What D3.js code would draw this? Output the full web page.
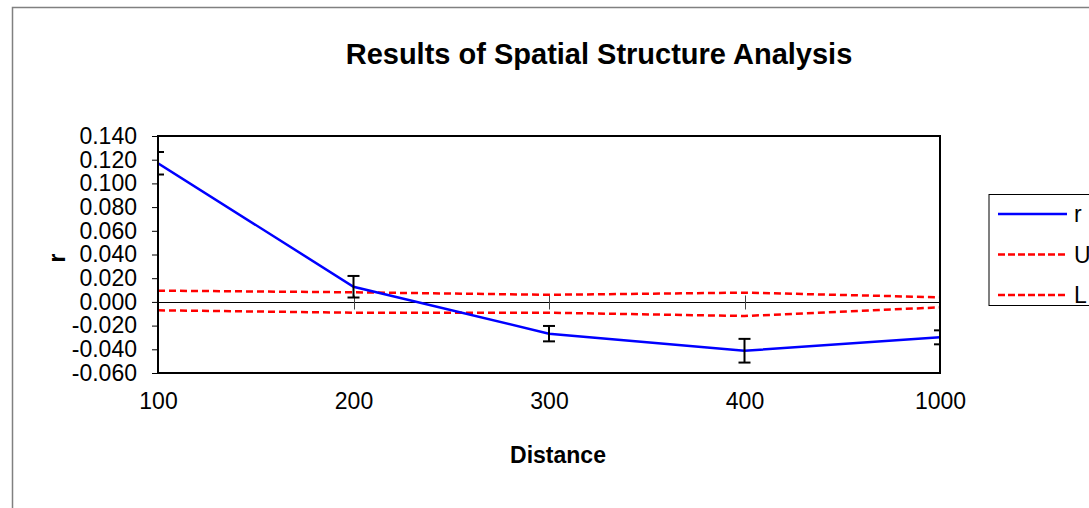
<!DOCTYPE html>
<html><head><meta charset="utf-8">
<script src="https://cdn.jsdelivr.net/npm/d3@7"></script>
<style>body{margin:0;background:#fff}svg{display:block}text{font-family:"Liberation Sans",Arial,sans-serif}</style>
</head><body>
<svg id="c" width="1089" height="508"></svg>
<script>
const categories = ["100","200","300","400","1000"];
const rValues = [0.117, 0.0128, -0.0268, -0.0412, -0.0299];
const rError  = [0.0095, 0.0091, 0.0065, 0.0100, 0.0059];
const uValues = [0.0095, 0.0081, 0.0060, 0.0078, 0.0039];
const lValues = [-0.0071, -0.0091, -0.0091, -0.0119, -0.0046];
const yTicks = [0.14,0.12,0.10,0.08,0.06,0.04,0.02,0,-0.02,-0.04,-0.06];

const FS = 23;
const svg = d3.select("#c");
const L = 158, R = 940, T = 136, B = 373;
svg.append("rect").attr("x",12.5).attr("y",7.5).attr("width",1200).attr("height",600)
  .attr("fill","#fff").attr("stroke","#808080").attr("stroke-width",1.5);

const x = d3.scalePoint().domain(categories).range([L,R]).padding(0);
const y = d3.scaleLinear().domain([-0.06,0.14]).range([B,T]);

svg.append("text").attr("x",599).attr("y",64).attr("text-anchor","middle")
  .style("font-size","29px").attr("font-weight","bold").text("Results of Spatial Structure Analysis");

// y axis
const ya = svg.append("g").attr("transform",`translate(${L},0)`)
  .call(d3.axisLeft(y).tickValues(yTicks).tickSize(6).tickPadding(15).tickFormat(d3.format(".3f")));
ya.select(".domain").remove();
ya.selectAll("line").attr("stroke","#000");
ya.selectAll("text").style("font-size",FS+"px").attr("font-family","Liberation Sans, Arial, sans-serif").attr("fill","#000")
  .text(d=> d3.format(".3f")(d).replace("−","-"));

// zero line with cross ticks
const y0 = Math.round(y(0))+0.5;
svg.append("line").attr("x1",L).attr("x2",R).attr("y1",y0).attr("y2",y0).attr("stroke","#000").attr("stroke-width",1);
svg.append("g").selectAll("line").data(categories.slice(1,-1)).join("line")
  .attr("x1",d=>Math.round(x(d))+0.5).attr("x2",d=>Math.round(x(d))+0.5)
  .attr("y1",y0-7).attr("y2",y0+7).attr("stroke","#444").attr("stroke-width",1);

// x labels
const xa = svg.append("g").attr("transform",`translate(0,${B})`)
  .call(d3.axisBottom(x).tickSize(0).tickPadding(20));
xa.select(".domain").remove();
xa.selectAll("text").style("font-size",FS+"px").attr("font-family","Liberation Sans, Arial, sans-serif").attr("fill","#000");

svg.append("text").attr("x",558).attr("y",463).attr("text-anchor","middle")
  .style("font-size",FS+"px").attr("font-weight","bold").text("Distance");
svg.append("text").attr("transform","translate(65,258) rotate(-90)").attr("text-anchor","middle")
  .style("font-size",FS+"px").attr("font-weight","bold").text("r");

svg.append("clipPath").attr("id","pc").append("rect").attr("x",L).attr("y",T).attr("width",R-L).attr("height",B-T);
const plot = svg.append("g").attr("clip-path","url(#pc)");

const line = d3.line().x((d,i)=>x(categories[i])).y(d=>y(d));
plot.append("path").datum(uValues).attr("d",line).attr("fill","none").attr("stroke","#ff0000")
  .attr("stroke-width",2.5).attr("stroke-dasharray","7,4");
plot.append("path").datum(lValues).attr("d",line).attr("fill","none").attr("stroke","#ff0000")
  .attr("stroke-width",2.5).attr("stroke-dasharray","7,4");
plot.append("path").datum(rValues).attr("d",line).attr("fill","none").attr("stroke","#0000ff")
  .attr("stroke-width",2.5);

// error bars
const eb = plot.append("g").attr("stroke","#000").attr("stroke-width",2);
rValues.forEach((v,i)=>{
  const cx = x(categories[i]);
  eb.append("line").attr("x1",cx).attr("x2",cx).attr("y1",y(v+rError[i])).attr("y2",y(v-rError[i]));
  [v+rError[i], v-rError[i]].forEach(e=>{
    eb.append("line").attr("x1",cx-6).attr("x2",cx+6).attr("y1",y(e)).attr("y2",y(e));
  });
});

// plot border
svg.append("rect").attr("x",L).attr("y",T).attr("width",R-L).attr("height",B-T)
  .attr("fill","none").attr("stroke","#000").attr("stroke-width",2);

// legend
const lg = svg.append("g");
lg.append("rect").attr("x",989).attr("y",194.5).attr("width",150).attr("height",111)
  .attr("fill","#fff").attr("stroke","#000").attr("stroke-width",1);
const items = [{n:"r",c:"#0000ff",d:null},{n:"U",c:"#ff0000",d:"7,3"},{n:"L",c:"#ff0000",d:"7,3"}];
items.forEach((it,i)=>{
  const yy = 214 + i*40.5;
  lg.append("line").attr("x1",998).attr("x2",1067).attr("y1",yy).attr("y2",yy)
    .attr("stroke",it.c).attr("stroke-width",2.5).attr("stroke-dasharray",it.d);
  lg.append("text").attr("x",1074).attr("y",yy+8).style("font-size",FS+"px").text(it.n);
});
</script>
</body></html>
